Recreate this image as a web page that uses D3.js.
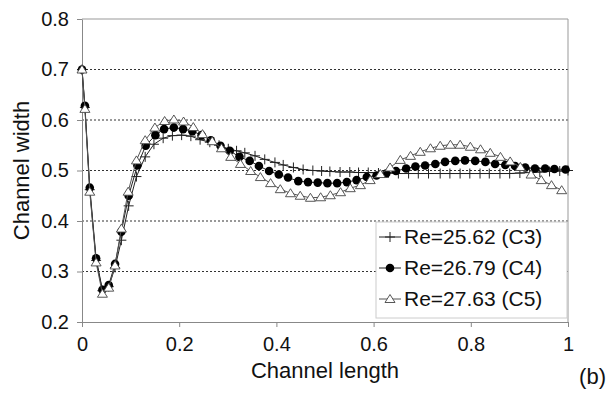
<!DOCTYPE html>
<html>
<head>
<meta charset="utf-8">
<script src="https://cdn.jsdelivr.net/npm/d3@7"></script>
<style>
  body { margin: 0; background: #fff; }
  svg { font-family: "Liberation Sans", Arial, sans-serif; }
  .axis path, .axis line { stroke: #888; }
  .axis text { font-size: 20px; fill: #111; }
</style>
</head>
<body>
<script>
const width = 610, height = 402
const margin = { top: 19, right: 42, bottom: 80, left: 82 }

// Re=25.62 (C3), crosses
const c3X = [0, 0.006, 0.016, 0.029, 0.042, 0.055, 0.068, 0.081, 0.096, 0.112,
  0.130, 0.148, 0.167, 0.186, 0.205, 0.224, 0.243, 0.263, 0.282, 0.301,
  0.318, 0.335, 0.356, 0.376, 0.397, 0.414, 0.435, 0.455, 0.475, 0.493,
  0.510, 0.531, 0.551, 0.569, 0.589, 0.610, 0.630, 0.651, 0.672, 0.692,
  0.713, 0.737, 0.757, 0.778, 0.798, 0.819, 0.838, 0.860, 0.880, 0.901,
  0.921, 0.942, 0.962, 0.983, 1.0]
const c3Y = [0.700, 0.625, 0.462, 0.322, 0.262, 0.270, 0.308, 0.362, 0.430, 0.488,
  0.527, 0.552, 0.564, 0.569, 0.570, 0.568, 0.561, 0.556, 0.550, 0.543,
  0.539, 0.535, 0.529, 0.522, 0.516, 0.511, 0.506, 0.502, 0.500, 0.499,
  0.498, 0.497, 0.497, 0.496, 0.496, 0.495, 0.495, 0.494, 0.494, 0.494,
  0.494, 0.494, 0.494, 0.494, 0.494, 0.494, 0.494, 0.494, 0.494, 0.495,
  0.496, 0.497, 0.498, 0.499, 0.500]

// Re=26.79 (C4), filled circles
const c4X = [0, 0.006, 0.016, 0.029, 0.042, 0.055, 0.068, 0.081, 0.096, 0.114,
  0.131, 0.151, 0.169, 0.189, 0.208, 0.227, 0.246, 0.265, 0.285, 0.304,
  0.324, 0.345, 0.364, 0.385, 0.405, 0.424, 0.445, 0.465, 0.485, 0.505,
  0.525, 0.545, 0.565, 0.586, 0.606, 0.626, 0.646, 0.667, 0.686, 0.706,
  0.727, 0.747, 0.768, 0.788, 0.809, 0.830, 0.850, 0.871, 0.891, 0.912,
  0.932, 0.953, 0.972, 0.995]
const c4Y = [0.700, 0.628, 0.466, 0.326, 0.264, 0.273, 0.315, 0.379, 0.450, 0.510,
  0.549, 0.570, 0.582, 0.585, 0.582, 0.578, 0.570, 0.560, 0.549, 0.539,
  0.527, 0.519, 0.509, 0.499, 0.492, 0.486, 0.479, 0.477, 0.476, 0.475,
  0.475, 0.477, 0.481, 0.487, 0.490, 0.494, 0.499, 0.504, 0.508, 0.510,
  0.513, 0.517, 0.519, 0.520, 0.519, 0.517, 0.513, 0.511, 0.509, 0.506,
  0.504, 0.504, 0.503, 0.502]

// Re=27.63 (C5), open triangles
const c5X = [0, 0.006, 0.016, 0.029, 0.042, 0.055, 0.068, 0.081, 0.095, 0.112,
  0.130, 0.150, 0.170, 0.189, 0.209, 0.229, 0.248, 0.268, 0.287, 0.306,
  0.326, 0.347, 0.367, 0.388, 0.408, 0.429, 0.449, 0.470, 0.491, 0.511,
  0.532, 0.552, 0.573, 0.593, 0.614, 0.634, 0.655, 0.676, 0.696, 0.717,
  0.737, 0.758, 0.778, 0.799, 0.820, 0.840, 0.861, 0.881, 0.902, 0.924,
  0.945, 0.966, 0.987]
const c5Y = [0.700, 0.622, 0.458, 0.318, 0.256, 0.268, 0.312, 0.385, 0.458, 0.520,
  0.560, 0.585, 0.598, 0.601, 0.597, 0.586, 0.572, 0.558, 0.544, 0.527,
  0.513, 0.499, 0.487, 0.475, 0.463, 0.455, 0.450, 0.446, 0.447, 0.451,
  0.457, 0.465, 0.471, 0.481, 0.493, 0.506, 0.521, 0.529, 0.537, 0.544,
  0.549, 0.551, 0.551, 0.547, 0.542, 0.535, 0.527, 0.518, 0.507, 0.492,
  0.481, 0.471, 0.461]

const seriesNames = ["Re=25.62 (C3)", "Re=26.79 (C4)", "Re=27.63 (C5)"]
const xTicks = [0, 0.2, 0.4, 0.6, 0.8, 1]
const yTicks = [0.2, 0.3, 0.4, 0.5, 0.6, 0.7, 0.8]
const gridTicks = [0.3, 0.4, 0.5, 0.6, 0.7]

const series = [
  { name: seriesNames[0], marker: "cross", pts: c3X.map((x, i) => ({ x, y: c3Y[i] })) },
  { name: seriesNames[1], marker: "circle", pts: c4X.map((x, i) => ({ x, y: c4Y[i] })) },
  { name: seriesNames[2], marker: "triangle", pts: c5X.map((x, i) => ({ x, y: c5Y[i] })) }
]

const svg = d3.select("body").append("svg")
  .attr("width", width)
  .attr("height", height)

const x = d3.scaleLinear().domain([0, 1]).range([margin.left, width - margin.right])
const y = d3.scaleLinear().domain([0.2, 0.8]).range([height - margin.bottom, margin.top])

// gridlines
svg.append("g")
  .selectAll("line")
  .data(gridTicks)
  .join("line")
  .attr("x1", x(0)).attr("x2", x(1))
  .attr("y1", d => y(d)).attr("y2", d => y(d))
  .attr("stroke", "#333")
  .attr("stroke-dasharray", "2,2")

// frame top & right
svg.append("path")
  .attr("d", `M${x(0)},${y(0.8)}H${x(1)}V${y(0.2)}`)
  .attr("fill", "none")
  .attr("stroke", "#999")

svg.append("g")
  .attr("class", "axis")
  .attr("transform", `translate(${x(0)},0)`)
  .call(d3.axisLeft(y).tickValues(yTicks).tickFormat(d3.format(".1f")).tickSize(5).tickPadding(8).tickSizeOuter(0))

svg.append("g")
  .attr("class", "axis")
  .attr("transform", `translate(0,${y(0.2)})`)
  .call(d3.axisBottom(x).tickValues(xTicks).tickFormat(d3.format("~g")).tickSize(5).tickPadding(10).tickSizeOuter(0))

// titles
svg.append("text")
  .attr("x", (x(0) + x(1)) / 2)
  .attr("y", 378)
  .attr("text-anchor", "middle")
  .attr("font-size", 22)
  .attr("fill", "#111")
  .text("Channel length")

svg.append("text")
  .attr("transform", `translate(29,${(y(0.2) + y(0.8)) / 2}) rotate(-90)`)
  .attr("text-anchor", "middle")
  .attr("font-size", 22)
  .attr("fill", "#111")
  .text("Channel width")

svg.append("text")
  .attr("x", 606)
  .attr("y", 384)
  .attr("text-anchor", "end")
  .attr("font-size", 22)
  .attr("fill", "#111")
  .text("(b)")

const line = d3.line().x(d => x(d.x)).y(d => y(d.y))

function drawMarker(g, type) {
  if (type === "circle") {
    g.append("circle").attr("r", 4.3).attr("fill", "#000")
  } else if (type === "triangle") {
    g.append("path").attr("d", "M0,-4.5L5,3.5L-5,3.5Z")
      .attr("fill", "#fff").attr("stroke", "#444").attr("stroke-width", 0.9)
  } else {
    g.append("path").attr("d", "M-5,0H5M0,-5V5")
      .attr("stroke", "#222").attr("stroke-width", 1)
  }
}

series.forEach(s => {
  svg.append("path")
    .datum(s.pts)
    .attr("fill", "none")
    .attr("stroke", s.marker === "triangle" ? "#555" : "#222")
    .attr("stroke-width", 1)
    .attr("d", line)

  svg.append("g")
    .selectAll("g")
    .data(s.pts)
    .join("g")
    .attr("transform", d => `translate(${x(d.x)},${y(d.y)})`)
    .each(function () { drawMarker(d3.select(this), s.marker) })
})

// legend
const legend = svg.append("g")
legend.append("rect")
  .attr("x", 376).attr("y", 222)
  .attr("width", 191).attr("height", 96)
  .attr("fill", "#fff")
  .attr("stroke", "#ccc")

series.forEach((s, i) => {
  const row = legend.append("g").attr("transform", `translate(390,${237 + i * 31})`)
  row.append("line")
    .attr("x1", -11).attr("x2", 11)
    .attr("stroke", s.marker === "triangle" ? "#555" : "#222")
  drawMarker(row, s.marker)
  row.append("text")
    .attr("x", 14)
    .attr("dy", "0.35em")
    .attr("font-size", 21)
    .attr("fill", "#111")
    .text(s.name)
})
</script>
</body>
</html>
